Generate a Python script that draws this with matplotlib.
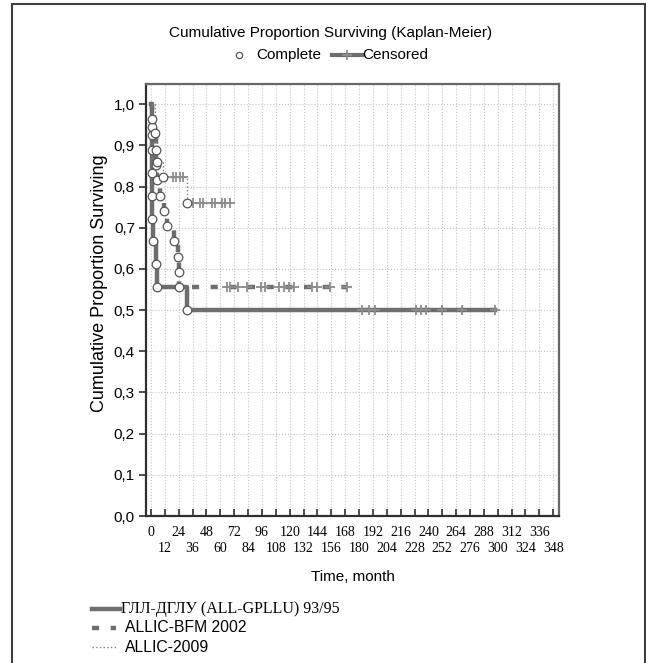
import matplotlib
matplotlib.use("Agg")
import matplotlib.pyplot as plt
from matplotlib.lines import Line2D
from matplotlib.patches import Rectangle
import numpy as np

# values (time in months, proportion surviving)
gpllu_time = [0, 0.5, 1, 1, 1, 1, 2, 4, 5, 31.5, 298]
gpllu_surv = [1.0, 0.944, 0.889, 0.833, 0.778, 0.722, 0.667, 0.611, 0.556, 0.5, 0.5]
gpllu_cens = [183, 188.5, 194, 229, 233.5, 238, 252, 269, 298]

bfm_time = [0, 0.5, 0.8, 4, 4.5, 5, 7.7, 11, 13.5, 20, 23.5, 24.2, 24.5, 170]
bfm_surv = [1.0, 0.963, 0.926, 0.889, 0.852, 0.815, 0.778, 0.741, 0.704, 0.667, 0.630, 0.593, 0.556, 0.556]
bfm_cens = [65.5, 68, 75, 82.7, 95.6, 99, 111, 115.4, 119.7, 124, 139.5, 143.8, 155, 169.7]

a09_time = [0, 3.5, 5.4, 10.6, 31, 68]
a09_surv = [1.0, 0.93, 0.86, 0.822, 0.76, 0.76]
a09_cens = [19, 22, 25, 28, 36.4, 42, 45, 52.5, 55, 61.5, 64, 68]

series_names = ["ГЛЛ-ДГЛУ (ALL-GPLLU) 93/95", "ALLIC-BFM 2002", "ALLIC-2009"]
x_ticks_top = list(range(0, 349, 24))     # first label row
x_ticks_low = list(range(12, 349, 24))    # second label row
y_ticks = [0.0, 0.1, 0.2, 0.3, 0.4, 0.5, 0.6, 0.7, 0.8, 0.9, 1.0]

SANS = "Liberation Sans"
SERIF = "Liberation Serif"
W, H = 646, 663
GRAY = "#6e6e6e"
CENS = "#8c8c8c"

fig = plt.figure(figsize=(W / 100, H / 100), dpi=100)
ax = fig.add_axes([146 / W, 1 - 516 / H, (559 - 146) / W, (516 - 84) / H])


def surv_at(times, survs, t):
    # value of the step curve just after time t
    idx = np.searchsorted(times, t, side="right") - 1
    return np.array(survs)[idx]


def draw_curve(times, survs, cens, ls, lw, color, dashes=None):
    line, = ax.step(times, survs, where="post", color=color, lw=lw, ls=ls, zorder=3)
    if dashes is not None:
        line.set_dashes(dashes)
    cy = surv_at(times, survs, cens)
    ax.plot(cens, cy, ls="none", marker="+", ms=7, mew=1.3, color=CENS, zorder=4)
    # complete (event) points
    ax.plot(times[1:-1], survs[1:-1], ls="none", marker="o", ms=6.2, mfc="white",
            mec="#555555", mew=0.9, zorder=5)


draw_curve(gpllu_time, gpllu_surv, gpllu_cens, "-", 3.2, GRAY)
draw_curve(bfm_time, bfm_surv, bfm_cens, "--", 3.2, GRAY, dashes=(1.6, 2.6))
draw_curve(a09_time, a09_surv, a09_cens, ":", 1.0, "#808080")

ax.set_xlim(-4.3, 353)
ax.set_ylim(0, 1.049)
ax.set_xticks(x_ticks_top)
ax.set_xticklabels([str(t) for t in x_ticks_top], fontfamily=SERIF, fontsize=10)
ax.set_xticks(x_ticks_low, minor=True)
ax.set_xticklabels([str(t) for t in x_ticks_low], minor=True, fontfamily=SERIF, fontsize=10)
ax.set_yticks(y_ticks)
ax.set_yticklabels([f"{v:.1f}".replace(".", ",") for v in y_ticks],
                   fontfamily=SANS, fontsize=11)
ax.tick_params(axis="x", which="major", direction="in", length=5, width=1.2,
               color="#303030", pad=7.5)
ax.tick_params(axis="x", which="minor", direction="in", length=5, width=1.2,
               color="#303030", pad=18.5)
ax.tick_params(axis="y", direction="out", length=5, width=1.2, color="#303030", pad=3)
ax.grid(True, which="both", axis="x", color="#c4c4c4", ls=":", lw=0.8)
ax.grid(True, which="major", axis="y", color="#c4c4c4", ls=":", lw=0.8)
ax.set_axisbelow(True)
for side in ["left", "bottom"]:
    ax.spines[side].set_color("#303030")
    ax.spines[side].set_linewidth(1.6)
for side in ["top", "right"]:
    ax.spines[side].set_color("#666666")
    ax.spines[side].set_linewidth(1.6)

ax.set_xlabel("Time, month", fontfamily=SANS, fontsize=11, labelpad=11)
ax.set_ylabel("Cumulative Proportion Surviving", fontfamily=SANS, fontsize=13)
ax.yaxis.set_label_coords(-38 / 413, 0.54)

fig.text(331 / W, 1 - 33 / H, "Cumulative Proportion Surviving (Kaplan-Meier)",
         ha="center", va="center", fontfamily=SANS, fontsize=11)

# top legend: Complete / Censored
top_y = 1 - 55 / H
fig.add_artist(Line2D([239 / W], [top_y], ls="none", marker="o", ms=4.5,
                      mfc="white", mec="#555555", mew=0.9))
fig.text(256 / W, top_y, "Complete", ha="left", va="center",
         fontfamily=SANS, fontsize=11)
fig.add_artist(Line2D([332 / W, 362 / W], [top_y, top_y], color=GRAY, lw=3))
fig.add_artist(Line2D([347 / W], [top_y], ls="none", marker="+", ms=7, mew=1.3, color=CENS))
fig.text(362 / W, top_y, "Censored", ha="left", va="center",
         fontfamily=SANS, fontsize=11)

# bottom legend for the three groups
leg_y = [609, 628, 647]
fig.add_artist(Line2D([92 / W, 120 / W], [1 - leg_y[0] / H] * 2, color=GRAY, lw=3.2))
fig.text(121 / W, 1 - leg_y[0] / H, series_names[0], ha="left", va="center",
         fontfamily=SERIF, fontsize=11.5)
dash_line = Line2D([92 / W, 116 / W], [1 - leg_y[1] / H] * 2, color=GRAY, lw=3.2)
dash_line.set_dashes((1.6, 2.6))
fig.add_artist(dash_line)
fig.text(125 / W, 1 - leg_y[1] / H, series_names[1], ha="left", va="center",
         fontfamily=SANS, fontsize=11.3)
fig.add_artist(Line2D([92 / W, 116 / W], [1 - leg_y[2] / H] * 2, color="#808080", lw=1.0, ls=":"))
fig.text(125 / W, 1 - leg_y[2] / H, series_names[2], ha="left", va="center",
         fontfamily=SANS, fontsize=11.3)

# outer frame
fig.add_artist(Rectangle((12 / W, -0.01), (645 - 12) / W, 1.01 - 4 / H,
                         transform=fig.transFigure, fill=False,
                         ec="#404040", lw=1.5))

fig.savefig("out.png", dpi=100)
